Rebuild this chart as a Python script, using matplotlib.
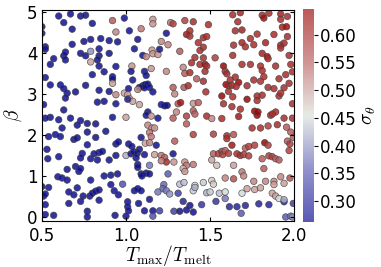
import matplotlib
matplotlib.use("Agg")
import matplotlib.pyplot as plt
from matplotlib.colors import LinearSegmentedColormap, Normalize
from matplotlib.cm import ScalarMappable

plt.rcParams['mathtext.fontset'] = 'cm'

# upper left block (T_max/T_melt < 1, beta > 2.5)
t1 = [0.60, 0.67, 0.73, 0.76, 0.50, 0.63, 0.68, 0.80, 0.92, 0.99,
      0.50, 0.94, 0.52, 0.52, 0.68, 0.75, 0.79, 0.85, 0.90, 0.95,
      0.57, 0.63, 0.64, 0.64, 0.55, 0.73, 0.76, 0.79, 0.79, 0.84,
      0.84, 0.83, 0.84, 0.90, 0.94, 0.87, 0.80, 0.92, 0.92, 0.52,
      0.55, 0.61, 0.63, 0.65, 0.64, 0.70, 0.76, 0.84, 0.90, 0.92,
      0.94, 0.99, 0.83, 0.87, 0.94, 0.51, 0.63]
b1 = [4.90, 4.95, 4.90, 4.92, 4.64, 4.74, 4.58, 4.72, 4.79, 4.85,
      4.48, 4.51, 4.15, 4.09, 4.21, 4.28, 4.33, 4.35, 4.30, 4.27,
      3.86, 3.93, 4.02, 3.83, 3.72, 3.99, 3.93, 4.04, 3.78, 4.10,
      3.93, 3.83, 3.68, 3.99, 3.67, 3.54, 3.47, 3.42, 3.36, 3.40,
      3.22, 3.22, 3.13, 3.02, 2.90, 3.05, 3.21, 3.09, 3.06, 3.26,
      2.98, 3.02, 2.80, 2.82, 2.76, 2.74, 2.61]
s1 = [0.28]*8 + [0.55, 0.28, 0.28, 0.52] + [0.28]*15 + [0.40, 0.50] \
     + [0.28]*20 + [0.50, 0.52, 0.50] + [0.28]*5

# upper middle block
t2 = [1.16, 1.16, 1.265, 1.28, 1.35, 1.40, 1.49, 1.02, 1.09, 1.24,
      1.38, 1.36, 1.38, 1.07, 1.21, 1.25, 1.46, 1.48, 1.43, 1.05,
      1.10, 1.12, 1.155, 1.16, 1.19, 1.20, 1.32, 1.44, 1.46, 1.41,
      1.46, 1.035, 1.15, 1.11, 1.12, 1.03, 1.24, 1.34, 1.35, 1.39,
      1.44, 1.47, 1.48, 1.47, 1.42, 1.46, 1.38, 1.04, 1.10, 1.115,
      1.13, 1.14, 1.11, 1.08, 1.16, 1.07, 1.015, 1.28, 1.345, 1.37,
      1.29, 1.475, 1.01, 1.02, 1.04, 1.01, 1.08, 1.21, 1.23, 1.245,
      1.31, 1.325, 1.40, 1.43, 1.13, 1.30, 1.40]
b2 = [4.82, 4.71, 4.74, 4.71, 4.79, 4.76, 4.69, 4.54, 4.59, 4.48,
      4.54, 4.45, 4.41, 4.33, 4.28, 4.20, 4.37, 4.40, 4.25, 4.10,
      3.94, 3.91, 4.07, 3.98, 3.96, 4.09, 4.04, 4.06, 4.14, 3.89,
      3.88, 3.68, 3.62, 3.55, 3.45, 3.55, 3.55, 3.65, 3.50, 3.76,
      3.72, 3.72, 3.68, 3.55, 3.37, 3.31, 3.52, 3.34, 3.20, 3.23,
      3.24, 3.16, 3.15, 3.16, 3.05, 3.11, 3.13, 3.16, 3.16, 3.20,
      3.00, 3.05, 2.98, 2.89, 2.82, 2.87, 2.74, 2.74, 2.71, 2.72,
      2.76, 2.79, 2.77, 2.79, 2.56, 2.56, 2.59]
s2 = [0.51, 0.51, 0.53, 0.58, 0.58, 0.60, 0.60, 0.28, 0.53, 0.28,
      0.60, 0.62, 0.60, 0.28, 0.52, 0.52, 0.60, 0.60, 0.60, 0.28,
      0.28, 0.52, 0.51, 0.51, 0.51, 0.28, 0.55, 0.60, 0.60, 0.60,
      0.60, 0.51, 0.51, 0.28, 0.28, 0.28, 0.52, 0.52, 0.55, 0.60,
      0.60, 0.63, 0.60, 0.60, 0.55, 0.60, 0.60, 0.28, 0.28, 0.28,
      0.28, 0.28, 0.28, 0.28, 0.28, 0.52, 0.28, 0.55, 0.55, 0.60,
      0.52, 0.60, 0.50, 0.50, 0.50, 0.30, 0.50, 0.28, 0.28, 0.28,
      0.55, 0.62, 0.51, 0.55, 0.28, 0.52, 0.55]

# upper right block
t3 = [1.635, 1.68, 1.81, 1.82, 1.85, 1.92, 1.96, 1.92, 1.665, 1.65,
      1.69, 1.78, 1.88, 1.93, 1.955, 1.64, 1.69, 1.71, 1.74, 1.76,
      1.83, 1.92, 1.92, 1.96, 1.94, 1.53, 1.635, 1.81, 1.84, 1.845,
      1.97, 1.58, 1.59, 1.60, 1.69, 1.74, 1.80, 1.81, 1.89, 1.98,
      1.95, 1.99, 1.91, 1.65, 1.62, 1.67, 1.595, 1.61, 1.63, 1.655,
      1.72, 1.76, 1.80, 1.82, 1.845, 1.88, 1.94, 1.97, 1.61, 1.57,
      1.635, 1.72, 1.78, 1.78, 1.81, 1.91, 1.92, 1.58, 1.63, 1.68,
      1.765, 1.99, 1.89]
b3 = [4.93, 4.98, 4.92, 4.85, 4.97, 4.95, 4.89, 4.82, 4.76, 4.54,
      4.56, 4.46, 4.45, 4.63, 4.64, 4.19, 4.25, 4.15, 4.35, 4.20,
      4.25, 4.19, 4.12, 4.40, 4.24, 3.88, 3.94, 3.99, 3.91, 3.86,
      3.94, 3.68, 3.55, 3.49, 3.72, 3.72, 3.68, 3.57, 3.68, 3.72,
      3.47, 3.54, 3.37, 3.41, 3.34, 3.28, 3.23, 3.20, 3.21, 3.18,
      3.20, 3.34, 3.31, 3.42, 3.16, 3.13, 3.15, 3.26, 3.06, 2.95,
      2.93, 2.87, 2.95, 2.84, 2.97, 2.95, 3.02, 2.76, 2.69, 2.63,
      2.58, 2.76, 2.56]
s3 = [0.60, 0.61, 0.60, 0.63, 0.60, 0.61, 0.60, 0.60, 0.60, 0.60,
      0.61, 0.60, 0.60, 0.61, 0.63, 0.60, 0.61, 0.60, 0.60, 0.60,
      0.61, 0.60, 0.60, 0.60, 0.60, 0.58, 0.60, 0.61, 0.63, 0.60,
      0.60, 0.64, 0.60, 0.60, 0.60, 0.60, 0.60, 0.60, 0.60, 0.60,
      0.60, 0.60, 0.60, 0.60, 0.60, 0.64, 0.64, 0.61, 0.60, 0.60,
      0.60, 0.60, 0.60, 0.60, 0.60, 0.60, 0.60, 0.60, 0.60, 0.64,
      0.60, 0.64, 0.60, 0.60, 0.60, 0.60, 0.60, 0.60, 0.60, 0.60,
      0.64, 0.60, 0.60]

# lower left block
t4 = [0.55, 0.52, 0.60, 0.62, 0.67, 0.73, 0.77, 0.82, 0.71, 0.92,
      0.54, 0.58, 0.61, 0.69, 0.71, 0.77, 0.82, 0.88, 0.77, 0.94,
      0.955, 0.53, 0.535, 0.60, 0.74, 0.73, 0.79, 0.83, 0.84, 0.86,
      0.90, 0.94, 0.81, 0.70, 0.72, 0.73, 0.65, 0.595, 0.62, 0.65,
      0.79, 0.87, 0.91, 0.95, 0.98, 0.50, 0.54, 0.51, 0.52, 0.66,
      0.69, 0.71, 0.785, 0.80, 0.82, 0.84, 0.745, 0.91, 0.93, 0.955,
      0.52, 0.66, 0.73, 0.84, 0.52, 0.57, 0.77, 0.77, 0.935]
b4 = [2.43, 2.41, 2.37, 2.17, 2.41, 2.35, 2.28, 2.27, 2.24, 2.43,
      1.96, 2.01, 1.96, 1.89, 1.93, 2.07, 1.94, 2.09, 1.76, 1.78,
      1.83, 1.65, 1.42, 1.47, 1.55, 1.44, 1.42, 1.39, 1.57, 1.60,
      1.39, 1.50, 1.54, 1.23, 1.11, 1.18, 1.16, 0.98, 0.95, 0.90,
      0.90, 1.00, 1.02, 1.05, 0.80, 0.74, 0.72, 0.51, 0.56, 0.61,
      0.54, 0.71, 0.51, 0.58, 0.63, 0.66, 0.51, 0.79, 0.64, 0.54,
      0.30, 0.33, 0.38, 0.41, 0.06, 0.04, 0.14, 0.00, 0.04]
s4 = [0.28]*44 + [0.35] + [0.28]*24

# lower middle block
t5 = [1.00, 1.12, 1.15, 1.19, 1.28, 1.36, 1.41, 1.48, 1.13, 1.155,
      1.17, 1.36, 1.14, 1.15, 1.09, 1.115, 1.14, 1.18, 1.29, 1.40,
      1.016, 1.035, 1.00, 1.03, 1.047, 1.067, 1.08, 1.06, 1.11, 1.17,
      1.21, 1.23, 1.24, 1.28, 1.285, 1.21, 1.07, 1.07, 1.14, 1.35,
      1.36, 1.40, 1.34, 1.35, 1.09, 1.095, 1.12, 1.14, 1.25, 1.32,
      1.345, 1.41, 1.46, 1.05, 1.07, 1.09, 1.225, 1.22, 1.24, 1.26,
      1.19, 1.31, 1.40, 1.41, 1.48, 1.01, 1.01, 1.015, 1.00, 1.075,
      1.14, 1.34, 1.38, 1.45, 1.11, 1.16, 1.20, 1.285, 1.32, 1.36,
      1.16, 1.40]
b5 = [2.43, 2.48, 2.46, 2.41, 2.41, 2.46, 2.51, 2.46, 2.24, 2.17,
      2.17, 2.27, 2.06, 1.96, 1.94, 1.80, 1.81, 1.75, 1.85, 2.01,
      1.78, 1.72, 1.50, 1.54, 1.59, 1.55, 1.65, 1.44, 1.52, 1.52,
      1.50, 1.45, 1.34, 1.54, 1.34, 1.37, 1.28, 1.21, 1.26, 1.34,
      1.26, 1.28, 1.18, 1.11, 1.05, 1.00, 1.07, 1.05, 1.05, 0.80,
      0.84, 0.77, 0.84, 0.64, 0.69, 0.64, 0.79, 0.69, 0.64, 0.56,
      0.61, 0.58, 0.64, 0.72, 0.59, 0.37, 0.25, 0.15, 0.02, 0.33,
      0.43, 0.38, 0.28, 0.30, 0.15, 0.15, 0.15, 0.14, 0.14, 0.17,
      0.02, 0.12]
s5 = [0.50, 0.28, 0.51, 0.28, 0.55, 0.58, 0.55, 0.60, 0.52, 0.51,
      0.51, 0.55, 0.53, 0.53, 0.28, 0.50, 0.52, 0.28, 0.55, 0.58,
      0.28, 0.28, 0.42, 0.28, 0.28, 0.28, 0.28, 0.28, 0.28, 0.50,
      0.53, 0.55, 0.60, 0.28, 0.51, 0.53, 0.28, 0.28, 0.38, 0.51,
      0.53, 0.53, 0.49, 0.51, 0.28, 0.28, 0.28, 0.28, 0.36, 0.43,
      0.43, 0.45, 0.44, 0.28, 0.28, 0.28, 0.37, 0.37, 0.38, 0.40,
      0.38, 0.33, 0.44, 0.42, 0.42, 0.28, 0.28, 0.28, 0.28, 0.28,
      0.28, 0.30, 0.28, 0.32, 0.28, 0.28, 0.33, 0.33, 0.28, 0.28,
      0.35, 0.28]

# lower right block
t6 = [1.51, 1.57, 1.67, 1.78, 1.785, 1.86, 1.87, 1.94, 1.99, 1.52,
      1.60, 1.64, 1.75, 1.80, 1.845, 1.90, 1.955, 1.98, 1.995, 1.60,
      1.63, 1.71, 1.73, 1.765, 1.825, 1.845, 1.96, 1.975, 1.97, 1.52,
      1.55, 1.57, 1.575, 1.59, 1.61, 1.66, 1.68, 1.70, 1.73, 1.81,
      1.85, 1.87, 1.89, 1.91, 1.51, 1.54, 1.64, 1.69, 1.70, 1.82,
      1.51, 1.52, 1.59, 1.64, 1.76, 1.83, 1.88, 1.88, 1.92, 1.975,
      1.94, 1.50, 1.555, 1.59, 1.69, 1.72, 1.765, 1.80, 1.87, 1.89,
      1.91, 1.94, 1.94, 1.995, 1.59, 1.535, 1.615, 1.66, 1.71, 1.79,
      1.85, 1.685, 1.95, 1.98, 1.99]
b6 = [2.40, 2.40, 2.45, 2.48, 2.56, 2.48, 2.51, 2.41, 2.41, 2.02,
      1.98, 2.01, 2.17, 2.17, 2.22, 2.25, 2.19, 2.07, 1.94, 1.91,
      1.75, 1.68, 1.72, 1.75, 1.81, 1.75, 1.85, 1.78, 1.62, 1.54,
      1.54, 1.60, 1.52, 1.62, 1.55, 1.54, 1.50, 1.52, 1.49, 1.42,
      1.49, 1.47, 1.42, 1.39, 1.39, 1.26, 1.26, 1.10, 1.00, 1.18,
      0.89, 0.80, 0.95, 0.93, 0.87, 0.87, 0.87, 0.79, 0.98, 0.95,
      0.82, 0.61, 0.58, 0.61, 0.58, 0.69, 0.67, 0.71, 0.58, 0.51,
      0.45, 0.37, 0.42, 0.33, 0.45, 0.38, 0.25, 0.25, 0.28, 0.32,
      0.30, 0.09, 0.00, 0.02, 0.00]
s6 = [0.52, 0.60, 0.62, 0.64, 0.64, 0.60, 0.60, 0.60, 0.60, 0.58,
      0.60, 0.56, 0.60, 0.60, 0.58, 0.60, 0.55, 0.55, 0.55, 0.60,
      0.62, 0.55, 0.58, 0.58, 0.64, 0.58, 0.55, 0.58, 0.58, 0.55,
      0.58, 0.58, 0.58, 0.55, 0.58, 0.60, 0.60, 0.58, 0.58, 0.55,
      0.58, 0.58, 0.55, 0.55, 0.50, 0.48, 0.50, 0.53, 0.52, 0.55,
      0.47, 0.47, 0.52, 0.56, 0.52, 0.52, 0.52, 0.50, 0.52, 0.56,
      0.50, 0.44, 0.43, 0.45, 0.45, 0.50, 0.50, 0.50, 0.50, 0.50,
      0.45, 0.30, 0.42, 0.33, 0.38, 0.32, 0.30, 0.30, 0.30, 0.30,
      0.30, 0.36, 0.36, 0.38, 0.40]

t_ratio = t1 + t2 + t3 + t4 + t5 + t6
beta = b1 + b2 + b3 + b4 + b5 + b6
sigma = s1 + s2 + s3 + s4 + s5 + s6

cmap = LinearSegmentedColormap.from_list(
    'bw_r', [(0.0, 0.0, 0.55), (0.35, 0.35, 0.7), (0.86, 0.88, 0.85),
             (0.72, 0.36, 0.36), (0.6, 0.0, 0.0)])
norm = Normalize(vmin=0.262, vmax=0.647)

fig = plt.figure(figsize=(3.81, 2.67), dpi=100)
ax = fig.add_axes([0.110, 0.172, 0.662, 0.791])
cax = fig.add_axes([0.795, 0.169, 0.029, 0.798])

ax.scatter(t_ratio, beta, c=sigma, cmap=cmap, norm=norm,
           s=22, alpha=0.85, edgecolors='0.25', linewidths=0.5)

ax.set_xlim(0.5, 2.0)
ax.set_ylim(-0.1, 5.05)
ax.set_xticks([0.5, 1.0, 1.5, 2.0])
ax.set_yticks([0, 1, 2, 3, 4, 5])
ax.tick_params(direction='in', top=True, right=True, labelsize=12,
               length=3, pad=3)
ax.tick_params(axis='x', pad=4)
ax.set_xlabel(r'$T_{\rm max}/T_{\rm melt}$', fontsize=14, labelpad=-1)
ax.set_ylabel(r'$\beta$', fontsize=14, labelpad=2)

cb = fig.colorbar(ScalarMappable(norm=norm, cmap=cmap), cax=cax, alpha=0.65)
cb.set_ticks([0.30, 0.35, 0.40, 0.45, 0.50, 0.55, 0.60])
cb.ax.tick_params(labelsize=12, length=3, pad=1)
cb.outline.set_visible(False)
cb.set_label(r'$\sigma_\theta$', fontsize=14, rotation=90, labelpad=2)

fig.savefig('out.png', dpi=100)
